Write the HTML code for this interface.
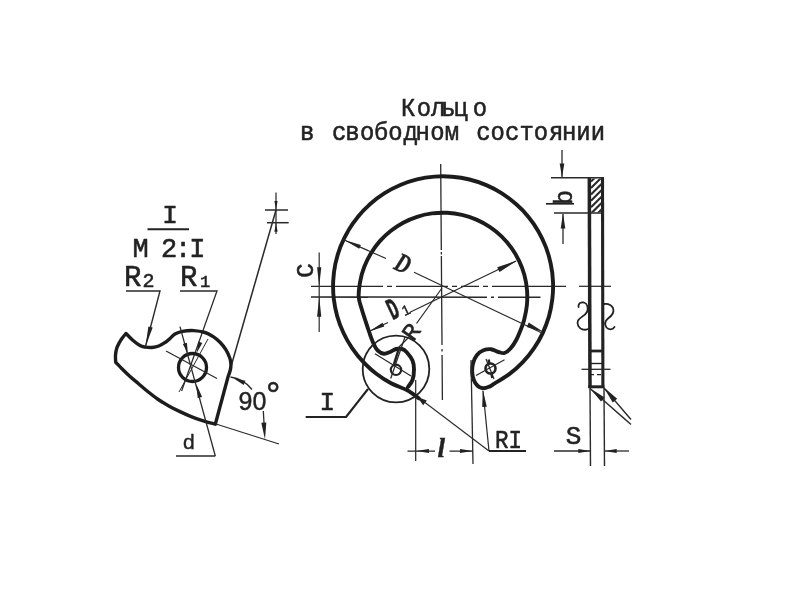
<!DOCTYPE html>
<html lang="ru"><head><meta charset="utf-8"><title>Кольцо в свободном состоянии</title>
<style>
html,body{margin:0;padding:0;background:#fff;}
body{width:800px;height:600px;overflow:hidden;}
svg{display:block;}
</style></head><body>
<svg width="800" height="600" viewBox="0 0 800 600">
<rect x="0" y="0" width="800" height="600" fill="#ffffff"/>
<defs><filter id="soft" x="0" y="0" width="800" height="600" filterUnits="userSpaceOnUse"><feGaussianBlur stdDeviation="0.38"/></filter></defs>
<g filter="url(#soft)">
<text transform="scale(0.92,1)" x="435.91 453.02 468.40 479.58 492.98 513.89" y="116" font-family="Liberation Mono, monospace" stroke="#222" stroke-width="0.55" stroke-linejoin="round" font-size="26" fill="#222" >Кольцо</text>
<text transform="scale(0.92,1)" x="326.13 345.65 360.85 375.41 391.37 406.51 421.89 438.53 451.77 467.68 483.29 503.26 517.59 533.24 548.89 564.55 580.20 596.62 610.85 626.46 642.11" y="140" font-family="Liberation Mono, monospace" stroke="#222" stroke-width="0.55" stroke-linejoin="round" font-size="26" fill="#222" >в свободном состоянии</text>
<text x="170" y="222.7" font-family="Liberation Mono, monospace" stroke="#222" stroke-width="0.55" stroke-linejoin="round" font-size="26" text-anchor="middle" fill="#222">I</text>
<line x1="147.5" y1="229.3" x2="189" y2="229.3" stroke="#222" stroke-width="2.1"/>
<text x="132.5" y="257" font-family="Liberation Mono, monospace" stroke="#222" stroke-width="0.55" stroke-linejoin="round" font-size="27" textLength="73" lengthAdjust="spacing" fill="#222">M 2:I</text>
<text x="124.1" y="286" font-family="Liberation Mono, monospace" stroke="#222" stroke-width="0.55" stroke-linejoin="round" font-size="29" fill="#222">R</text>
<text x="142.4" y="286.5" font-family="Liberation Mono, monospace" stroke="#222" stroke-width="0.55" stroke-linejoin="round" font-size="20" fill="#222">2</text>
<text x="180" y="286" font-family="Liberation Mono, monospace" stroke="#222" stroke-width="0.55" stroke-linejoin="round" font-size="29" fill="#222">R</text>
<text x="200" y="286.5" font-family="Liberation Mono, monospace" stroke="#222" stroke-width="0.55" stroke-linejoin="round" font-size="17" fill="#222">1</text>
<polyline points="126,291 160,291 145.6,346" stroke="#2a2a2a" stroke-width="1.4" fill="none"/>
<polygon points="145.5,346.3 148.4,326.4 152.7,327.5" fill="#222"/>
<polyline points="180,291 217,291 181.6,391" stroke="#2a2a2a" stroke-width="1.3" fill="none"/>
<polygon points="196.8,352.7 198.2,341.6 202.3,342.9" fill="#222"/>
<line x1="276" y1="192.5" x2="276" y2="234" stroke="#2a2a2a" stroke-width="1.25" fill="none"/>
<line x1="265" y1="210" x2="288" y2="210" stroke="#2a2a2a" stroke-width="1.5" fill="none"/>
<line x1="267" y1="222.7" x2="288.7" y2="222.7" stroke="#2a2a2a" stroke-width="1.5" fill="none"/>
<line x1="276" y1="210" x2="228" y2="377" stroke="#2a2a2a" stroke-width="1.5" fill="none"/>
<polygon points="276.0,210.0 274.4,201.0 277.6,201.0" fill="#222"/>
<polygon points="276.0,222.7 277.6,231.7 274.4,231.7" fill="#222"/>
<path d="M126.0,333.5 C125.4,334.2 123.4,336.5 122.3,338.0 C121.2,339.5 120.3,340.8 119.4,342.5 C118.5,344.2 117.5,345.9 116.8,348.0 C116.1,350.1 115.7,352.6 115.5,355.0 C115.3,357.4 115.7,361.1 115.7,362.3  C116.7,363.3 119.3,366.1 121.7,368.5 C124.1,370.9 127.2,374.0 130.0,376.5 C132.8,379.0 135.6,381.2 138.3,383.5 C141.0,385.8 143.1,387.7 146.2,390.3 C149.4,392.9 153.8,396.4 157.5,399.0 C161.2,401.6 165.0,403.8 168.8,405.9 C172.5,408.0 176.2,409.8 180.0,411.6 C183.8,413.4 187.5,415.1 191.2,416.6 C195.0,418.1 198.5,419.3 202.5,420.6 C206.5,421.9 213.2,423.6 215.3,424.2  L228,377 C228.4,375.8 229.8,372.2 230.3,370.0 C230.8,367.8 231.0,366.0 230.9,364.0 C230.8,362.0 230.6,360.4 229.8,358.0 C228.9,355.6 227.6,352.4 226.0,349.8 C224.4,347.1 222.2,344.5 220.0,342.2 C217.8,340.0 215.0,337.9 212.5,336.2 C210.0,334.6 208.1,333.4 205.0,332.5 C201.9,331.6 197.5,330.8 193.8,330.6 C190.0,330.4 185.6,330.8 182.5,331.4 C179.4,332.0 177.1,332.8 175.0,334.0 C172.9,335.2 171.6,337.1 170.0,338.5 C168.4,339.9 167.4,341.0 165.5,342.2 C163.6,343.5 161.0,345.1 158.8,346.0 C156.5,346.9 154.2,347.3 152.0,347.5 C149.8,347.7 147.2,347.4 145.2,347.1 C143.2,346.8 142.1,346.8 140.0,345.6 C137.9,344.4 134.8,342.0 132.5,340.0 C130.2,338.0 127.1,334.6 126.0,333.5 " stroke="#1e1e1e" stroke-width="3.4" fill="none" stroke-linecap="round" stroke-linejoin="round"/>
<circle cx="192.5" cy="367.5" r="14" stroke="#1e1e1e" stroke-width="3.3" fill="none" stroke-linecap="round" stroke-linejoin="round"/>
<line x1="166" y1="351" x2="217" y2="378.5" stroke="#2a2a2a" stroke-width="1.25" fill="none"/>
<line x1="208" y1="339" x2="179" y2="392" stroke="#2a2a2a" stroke-width="1" fill="none"/>
<line x1="180" y1="326.7" x2="215.3" y2="456" stroke="#2a2a2a" stroke-width="1.3" fill="none"/>
<polygon points="187.7,353.0 182.8,344.0 187.0,342.8" fill="#222"/>
<line x1="176" y1="456" x2="215.3" y2="456" stroke="#2a2a2a" stroke-width="1.4" fill="none"/>
<polygon points="196.3,384.0 202.1,396.9 197.7,398.1" fill="#222"/>
<text x="183" y="449" font-family="Liberation Sans, sans-serif" stroke="#222" stroke-width="0.4" font-size="21" fill="#222">d</text>
<line x1="216" y1="424" x2="279" y2="444" stroke="#2a2a2a" stroke-width="1.2" fill="none"/>
<path d="M230.5,377 C238,378 246.5,382.5 252,389.5 M263.3,411 L264.2,426" stroke="#2a2a2a" stroke-width="1.3" fill="none"/>
<polygon points="233.5,378.3 245.5,380.8 243.7,385.0" fill="#222"/>
<polygon points="265.0,439.6 261.3,422.8 266.3,422.5" fill="#222"/>
<text x="238.5" y="410" font-family="Liberation Sans, sans-serif" stroke="#222" stroke-width="0.4" font-size="25" fill="#222">90</text>
<text x="266" y="408.4" font-family="Liberation Sans, sans-serif" font-size="36" fill="#222" stroke="#222" stroke-width="0.5">°</text>
<line x1="440.7" y1="164" x2="442.4" y2="400" stroke="#2a2a2a" stroke-width="1.3" stroke-dasharray="86 2 2.5 1.5 89 4 2.5 3.5 50"/>
<line x1="311" y1="286.3" x2="566" y2="286.3" stroke="#2a2a2a" stroke-width="1.3" stroke-dasharray="72 4 5 4 52 4 5 4 18 4 5 4 200"/>
<line x1="579" y1="286.3" x2="611" y2="286.3" stroke="#2a2a2a" stroke-width="1.25" fill="none"/>
<line x1="311" y1="297" x2="540.5" y2="297.3" stroke="#2a2a2a" stroke-width="1.6" fill="none" stroke-dasharray="176 4 3 4 200"/>
<path d="M419.0,398.5 C417.0,397.1 411.9,392.9 407.3,390.3 C402.6,387.8 396.3,386.0 391.1,383.2 C385.9,380.5 380.9,377.2 376.3,373.7 C371.6,370.1 367.2,366.1 363.2,361.9 C359.1,357.6 355.4,352.9 352.1,348.1 C348.8,343.2 345.9,338.1 343.4,332.7 C340.9,327.4 338.8,321.8 337.2,316.2 C335.6,310.5 334.5,304.7 333.8,298.9 C333.1,293.0 332.9,287.1 333.2,281.2 C333.5,275.4 334.2,269.4 335.4,263.7 C336.7,258.0 338.3,252.2 340.4,246.8 C342.6,241.3 345.1,235.9 348.1,230.9 C351.0,225.8 354.5,220.9 358.2,216.4 C361.9,211.8 366.1,207.6 370.5,203.7 C374.9,199.8 379.6,196.3 384.6,193.1 C389.6,190.0 394.9,187.3 400.3,185.0 C405.7,182.7 411.3,180.8 417.0,179.4 C422.7,178.0 428.6,177.1 434.5,176.6 C440.3,176.2 446.3,176.2 452.1,176.7 C458.0,177.2 463.9,178.1 469.5,179.5 C475.2,180.9 480.9,182.8 486.3,185.1 C491.7,187.4 497.0,190.2 501.9,193.3 C506.9,196.5 511.6,200.1 516.0,204.0 C520.4,207.8 524.6,212.1 528.3,216.7 C532.0,221.2 535.4,226.1 538.3,231.2 C541.2,236.3 543.8,241.7 545.9,247.1 C548.0,252.6 549.7,258.3 550.8,264.1 C552.0,269.8 552.8,275.8 553.0,281.6 C553.3,287.5 553.0,293.4 552.3,299.3 C551.6,305.1 550.5,310.9 548.9,316.6 C547.2,322.2 545.1,327.8 542.7,333.1 C540.2,338.4 537.2,343.6 533.9,348.4 C530.6,353.3 526.8,357.9 522.8,362.1 C518.7,366.4 514.3,370.4 509.6,373.9 C504.9,377.5 498.1,381.3 494.7,383.4 C491.4,385.5 491.5,385.8 489.5,386.6 C487.5,387.4 485.0,388.5 483.0,388.3 C481.0,388.1 479.0,387.1 477.5,385.7 C476.0,384.3 474.6,382.2 473.8,380.0 C472.9,377.8 472.4,375.2 472.2,372.5 C472.1,369.8 472.2,366.4 473.0,363.5 C473.8,360.6 475.0,357.4 476.8,355.2 C478.5,353.1 481.1,351.3 483.5,350.3 C485.9,349.3 488.5,349.0 491.0,349.2 C493.5,349.5 496.2,351.4 498.5,352.0 C500.8,352.6 502.5,353.6 504.5,353.0 C506.5,352.4 508.5,350.8 510.5,348.5 C512.5,346.2 514.8,342.8 516.5,339.5 C518.2,336.2 519.7,332.3 521.0,329.0 C522.3,325.7 523.1,323.9 524.1,320.0 C525.1,316.0 526.4,310.1 526.9,305.1 C527.4,300.1 527.4,294.9 527.0,289.9 C526.6,284.9 525.7,279.9 524.4,275.0 C523.1,270.2 521.3,265.4 519.1,260.8 C517.0,256.3 514.4,251.9 511.4,247.8 C508.5,243.7 505.1,239.8 501.5,236.3 C497.9,232.8 493.9,229.6 489.7,226.8 C485.5,224.0 481.0,221.6 476.4,219.6 C471.8,217.6 466.9,216.0 462.0,214.9 C457.1,213.7 452.1,213.0 447.0,212.8 C442.0,212.6 436.9,212.8 431.9,213.4 C426.9,214.1 421.9,215.2 417.1,216.8 C412.4,218.3 407.6,220.3 403.2,222.7 C398.8,225.1 394.5,227.9 390.6,231.0 C386.6,234.1 382.9,237.7 379.6,241.4 C376.3,245.2 373.3,249.4 370.7,253.7 C368.1,258.0 365.9,262.6 364.1,267.3 C362.3,272.0 361.0,277.0 360.1,281.9 C359.2,286.9 358.4,292.3 358.7,297.0 C359.0,301.7 360.4,304.5 362.0,310.0 C363.6,315.5 366.6,324.3 368.5,330.0 C370.4,335.7 372.2,340.6 373.7,344.0 C375.2,347.4 376.0,348.9 377.7,350.5 C379.4,352.1 381.9,353.5 384.0,353.8 C386.1,354.0 388.0,352.8 390.0,352.0 C392.0,351.2 394.0,349.5 396.0,349.0 C398.0,348.5 400.2,348.5 402.0,349.0 C403.8,349.5 404.8,350.1 406.5,352.0 C408.2,353.9 411.2,357.6 412.5,360.5 C413.8,363.4 414.0,366.2 414.0,369.5 C414.0,372.8 413.5,377.1 412.5,380.0 C411.5,382.9 408.8,385.8 408.0,387.0 " stroke="#1e1e1e" stroke-width="3.9" fill="none" stroke-linecap="round" stroke-linejoin="round"/>
<circle cx="396" cy="369.8" r="5.2" stroke="#222" stroke-width="2.1" fill="none"/>
<circle cx="490.5" cy="368.5" r="5" stroke="#222" stroke-width="2.6" fill="none"/>
<path d="M488.6,359.6 L489.4,363 M491.4,374 L492.3,378" stroke="#222" stroke-width="2.4" fill="none"/>
<line x1="375" y1="353.7" x2="411" y2="376" stroke="#2a2a2a" stroke-width="1.25" fill="none"/>
<line x1="405" y1="337" x2="390.7" y2="378.5" stroke="#2a2a2a" stroke-width="1.25" fill="none"/>
<line x1="399" y1="348" x2="394" y2="364" stroke="#222" stroke-width="2.4"/>
<line x1="476" y1="375.5" x2="504.5" y2="359.7" stroke="#2a2a2a" stroke-width="1.25" fill="none"/>
<line x1="486" y1="359" x2="494" y2="379" stroke="#2a2a2a" stroke-width="1.25" fill="none"/>
<circle cx="396" cy="369" r="33.3" stroke="#222" stroke-width="1.8" fill="none" stroke-linecap="round" stroke-linejoin="round"/>
<polyline points="306.5,417 346,417 367.6,389.5" stroke="#222" stroke-width="2.1" fill="none" stroke-linecap="round" stroke-linejoin="round"/>
<text x="319.5" y="410" font-family="Liberation Mono, monospace" stroke="#222" stroke-width="0.55" stroke-linejoin="round" font-size="26" fill="#222">I</text>
<line x1="343" y1="239.5" x2="386" y2="258.5" stroke="#2a2a2a" stroke-width="1.25" fill="none"/>
<polygon points="344.5,240.0 360.9,244.9 359.2,248.8" fill="#222"/>
<line x1="414" y1="272.3" x2="542.5" y2="333.2" stroke="#2a2a2a" stroke-width="1.25" fill="none"/>
<polygon points="544.0,332.3 526.7,326.9 528.7,322.6" fill="#222"/>
<text transform="translate(403,263.5) rotate(25) scale(0.74,1)" x="0" y="9" text-anchor="middle" font-family="Liberation Serif, serif" stroke="#222" stroke-width="0.4" font-style="italic" font-weight="bold" font-size="27" fill="#222">D</text>
<line x1="370" y1="331" x2="388" y2="322.5" stroke="#2a2a2a" stroke-width="1.25" fill="none"/>
<polygon points="369.0,331.5 382.5,322.7 384.4,326.6" fill="#222"/>
<line x1="410" y1="312.3" x2="516" y2="261" stroke="#2a2a2a" stroke-width="1.25" fill="none"/>
<polygon points="517.3,260.4 499.5,271.9 497.2,267.2" fill="#222"/>
<g transform="translate(398,306) rotate(-25)"><text x="-11" y="10.5" font-family="Liberation Mono, monospace" stroke="#222" stroke-width="0.55" stroke-linejoin="round" font-size="31" fill="#222" textLength="10" lengthAdjust="spacingAndGlyphs" font-weight="bold">D</text><text x="1.5" y="12" font-family="Liberation Sans, sans-serif" stroke="#222" stroke-width="0.4" font-size="14" fill="#222">1</text></g>
<line x1="442" y1="288" x2="416.5" y2="323.5" stroke="#2a2a2a" stroke-width="1.25" fill="none"/>
<line x1="408" y1="338" x2="398" y2="348" stroke="#2a2a2a" stroke-width="1.25" fill="none"/>
<text transform="translate(411.5,332) rotate(-55)" x="0" y="7.5" text-anchor="middle" font-family="Liberation Mono, monospace" stroke="#222" stroke-width="0.55" stroke-linejoin="round" font-size="24" fill="#222">R</text>
<line x1="319.2" y1="252.5" x2="319.2" y2="332" stroke="#2a2a2a" stroke-width="1.2" fill="none"/>
<polygon points="319.2,286.3 317.1,267.3 321.3,267.3" fill="#222"/>
<polygon points="319.2,296.8 321.3,316.8 317.1,316.8" fill="#222"/>
<text transform="translate(312.5,270.5) rotate(-90)" x="0" y="0" text-anchor="middle" font-family="Liberation Mono, monospace" stroke="#222" stroke-width="0.55" stroke-linejoin="round" font-size="24" fill="#222">C</text>
<line x1="415.7" y1="380" x2="415.7" y2="461" stroke="#2a2a2a" stroke-width="1.25" fill="none"/>
<line x1="471" y1="360" x2="473" y2="464" stroke="#2a2a2a" stroke-width="1.3" fill="none"/>
<path d="M407.5,451 L435,451 M449.5,451 L473,451" stroke="#2a2a2a" stroke-width="1.25" fill="none"/>
<polygon points="416.0,451.0 429.0,448.9 429.0,453.1" fill="#222"/>
<polygon points="473.0,451.0 460.0,453.1 460.0,448.9" fill="#222"/>
<text x="437.5" y="457" font-family="Liberation Serif, serif" stroke="#222" stroke-width="0.4" font-style="italic" font-weight="bold" font-size="27" fill="#222">l</text>
<line x1="421" y1="399.5" x2="489" y2="451" stroke="#2a2a2a" stroke-width="1.2" fill="none"/>
<polygon points="417.0,396.8 426.8,400.4 423.2,405.2" fill="#222"/>
<line x1="483" y1="391" x2="489" y2="451" stroke="#2a2a2a" stroke-width="1.2" fill="none"/>
<polygon points="482.8,390.0 486.8,406.7 482.2,407.1" fill="#222"/>
<line x1="489" y1="451" x2="526" y2="451" stroke="#222" stroke-width="2"/>
<text x="495" y="448.3" font-family="Liberation Mono, monospace" stroke="#222" stroke-width="0.55" stroke-linejoin="round" font-size="26" fill="#222" textLength="27" lengthAdjust="spacingAndGlyphs">RI</text>
<line x1="589.3" y1="177.5" x2="590" y2="388" stroke="#222" stroke-width="3.5"/>
<line x1="602.5" y1="177.5" x2="602.9" y2="388" stroke="#222" stroke-width="3.1"/>
<line x1="551" y1="177.7" x2="604" y2="177.7" stroke="#2a2a2a" stroke-width="1.5" fill="none"/>
<line x1="554" y1="213" x2="604" y2="213" stroke="#2a2a2a" stroke-width="1.5" fill="none"/>
<clipPath id="hc"><rect x="591" y="178.5" width="11" height="34"/></clipPath>
<path d="M591,181.6 L602,170.6 M591,188.0 L602,177.0 M591,194.4 L602,183.4 M591,200.8 L602,189.8 M591,207.2 L602,196.2 M591,213.6 L602,202.6 M591,220.0 L602,209.0 M591,226.4 L602,215.4 M591,232.8 L602,221.8" stroke="#2a2a2a" stroke-width="2.1" clip-path="url(#hc)"/>
<line x1="562" y1="150" x2="562" y2="177" stroke="#2a2a2a" stroke-width="1.3" fill="none"/>
<polygon points="562.0,177.5 559.7,163.5 564.3,163.5" fill="#222"/>
<line x1="563" y1="214" x2="563" y2="244" stroke="#2a2a2a" stroke-width="1.3" fill="none"/>
<polygon points="563.0,213.5 565.3,228.5 560.7,228.5" fill="#222"/>
<text transform="translate(571.5,197.5) rotate(-90)" x="0" y="0" text-anchor="middle" font-family="Liberation Mono, monospace" stroke="#222" stroke-width="0.55" stroke-linejoin="round" font-size="25" fill="#222">b</text>
<line x1="546" y1="203.8" x2="574" y2="203.8" stroke="#222" stroke-width="1.7"/>
<path d="M578.5,307 C578,303 581,302 584,302.5 C587.5,303.5 588.5,308 587,312 C585,316 580,317 578,320.5 C576.5,324 578.5,328.5 583,329.5 C585,330 587,329.5 588,329" stroke="#222" stroke-width="1.8" fill="none" stroke-linecap="round" stroke-linejoin="round"/>
<path d="M604,304 C607,303.5 611,304.5 613,308 C614.5,312 611.5,316 608,318.5 C605,321 604.5,324.5 606.5,327.5 C608.5,330 612.5,330 614.5,327" stroke="#222" stroke-width="1.8" fill="none" stroke-linecap="round" stroke-linejoin="round"/>
<line x1="590" y1="351" x2="603" y2="351" stroke="#222" stroke-width="2.8"/>
<line x1="590" y1="363.5" x2="603" y2="363.5" stroke="#222" stroke-width="1.4"/>
<line x1="590" y1="374.6" x2="603" y2="374.6" stroke="#222" stroke-width="1.3" stroke-dasharray="4 3"/>
<line x1="588.3" y1="386.8" x2="604.4" y2="386.8" stroke="#222" stroke-width="3"/>
<line x1="581.5" y1="369.3" x2="610.5" y2="369.3" stroke="#2a2a2a" stroke-width="1.3" fill="none"/>
<line x1="590" y1="388.5" x2="631" y2="424.5" stroke="#2a2a2a" stroke-width="1.4" fill="none"/>
<polygon points="590.0,388.3 604.6,397.5 601.0,401.6" fill="#222"/>
<line x1="604" y1="388" x2="631" y2="419.5" stroke="#2a2a2a" stroke-width="1.4" fill="none"/>
<polygon points="604.0,387.6 617.2,398.7 612.7,402.5" fill="#222"/>
<line x1="590" y1="388" x2="590.5" y2="466" stroke="#2a2a2a" stroke-width="1.4" fill="none"/>
<line x1="604" y1="388" x2="604.5" y2="466" stroke="#2a2a2a" stroke-width="1.4" fill="none"/>
<line x1="554" y1="451" x2="590" y2="451" stroke="#2a2a2a" stroke-width="1.3" fill="none"/>
<polygon points="590.3,451.0 578.3,453.1 578.3,448.9" fill="#222"/>
<line x1="605" y1="451" x2="629" y2="451" stroke="#2a2a2a" stroke-width="1.3" fill="none"/>
<polygon points="604.7,451.0 616.7,448.9 616.7,453.1" fill="#222"/>
<text x="565.8" y="443.5" font-family="Liberation Mono, monospace" stroke="#222" stroke-width="0.55" stroke-linejoin="round" font-size="26" fill="#222">S</text>
</g>
</svg>
</body></html>
